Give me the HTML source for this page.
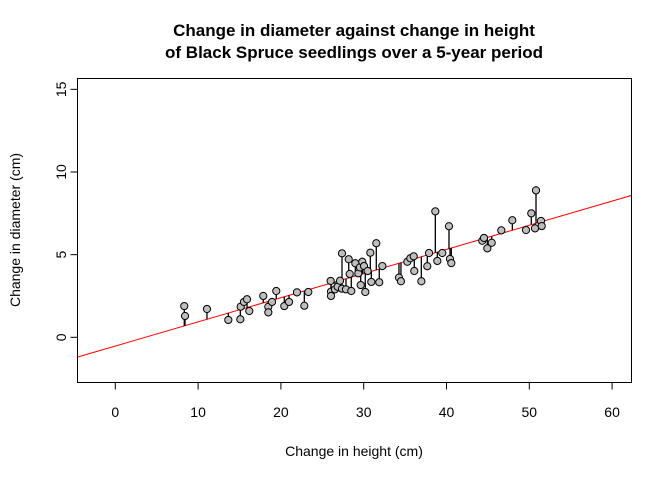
<!DOCTYPE html>
<html><head><meta charset="utf-8"><style>
body{margin:0;background:#fff}
svg text{font-family:"Liberation Sans",Arial,sans-serif;}
</style></head><body>
<svg id="chart" width="672" height="480" xmlns="http://www.w3.org/2000/svg">
<rect width="672" height="480" fill="#fff"/>
<text x="354" y="36" font-size="17" font-weight="bold" text-anchor="middle">Change in diameter against change in height</text>
<text x="354" y="58" font-size="17" font-weight="bold" text-anchor="middle">of Black Spruce seedlings over a 5-year period</text>
<text x="354" y="456" font-size="14" text-anchor="middle">Change in height (cm)</text>
<text x="20" y="230" font-size="14" text-anchor="middle" transform="rotate(-90 20 230)">Change in diameter (cm)</text>
<g id="axes"></g>
<g id="marks"></g>
<rect x="77.5" y="78.5" width="554" height="304" fill="none" stroke="#000" stroke-width="1"/>
</svg>
<script>
const heights=[8.33,8.42,11.07,13.65,15.10,15.14,15.54,15.91,16.18,17.87,18.48,18.48,18.93,19.44,20.41,20.98,21.94,22.83,23.31,26.01,26.05,26.05,26.53,26.86,27.14,27.38,27.38,27.86,28.19,28.31,28.50,28.99,29.35,29.55,29.64,29.83,30.04,30.19,30.48,30.80,30.92,31.52,31.88,32.25,34.26,34.50,35.27,35.63,36.04,36.11,36.96,37.68,37.89,38.65,38.89,39.49,40.30,40.42,40.58,44.32,44.53,44.93,45.46,46.62,47.95,49.60,50.24,50.81,50.69,51.41,51.50];
const diameters=[1.89,1.29,1.71,1.05,1.09,1.85,2.14,2.30,1.59,2.50,1.85,1.51,2.14,2.80,1.89,2.14,2.72,1.91,2.74,3.41,2.76,2.50,2.90,3.06,3.42,5.08,2.94,2.90,4.72,3.83,2.80,4.48,3.87,4.23,3.16,4.57,4.31,2.74,4.01,5.12,3.35,5.69,3.33,4.31,3.61,3.39,4.57,4.78,4.90,4.01,3.39,4.30,5.10,7.62,4.62,5.10,6.72,4.74,4.49,5.84,6.01,5.38,5.72,6.47,7.08,6.49,7.50,8.89,6.59,7.04,6.73];
const xTicks=[0,10,20,30,40,50,60];
const yTicks=[0,5,10,15];
const NS="http://www.w3.org/2000/svg";
const xs=v=>115.3+v*8.28;
const ys=v=>337.3-v*16.53;
function mk(tag,attrs,parent){const e=document.createElementNS(NS,tag);for(const k in attrs)e.setAttribute(k,attrs[k]);parent.appendChild(e);return e;}
const axes=document.getElementById('axes'),marks=document.getElementById('marks');
mk('line',{x1:xs(0),x2:xs(60),y1:382.5,y2:382.5,stroke:'#000'},axes);
xTicks.forEach(t=>{
 const l=mk('line',{x1:xs(t),x2:xs(t),y1:382.5,y2:389.5,stroke:'#000'},axes);
 
 
 const tx=mk('text',{x:xs(t),y:417,'font-size':14,'text-anchor':'middle'},axes);tx.textContent=t;
 
 
});
mk('line',{x1:77.5,x2:77.5,y1:ys(0),y2:ys(15),stroke:'#000'},axes);
yTicks.forEach(t=>{
 const l=mk('line',{x1:70.5,x2:77.5,y1:ys(t),y2:ys(t),stroke:'#000'},axes);
 
 
 const tx=mk('text',{x:66,y:ys(t),'font-size':14,'text-anchor':'middle',transform:`rotate(-90 66 ${ys(t)})`},axes);tx.textContent=t;
 
 
});
// linear fit
const n=heights.length;const mx=heights.reduce((a,b)=>a+b)/n,my=diameters.reduce((a,b)=>a+b)/n;
let sxy=0,sxx=0;for(let i=0;i<n;i++){sxy+=(heights[i]-mx)*(diameters[i]-my);sxx+=(heights[i]-mx)**2;}
const b=sxy/sxx,a=my-b*mx;
const cp=mk('clipPath',{id:'clip'},marks);mk('rect',{x:77.5,y:78.5,width:554,height:304},cp);
const fit=mk('line',{x1:xs(-10),y1:ys(a+b*-10),x2:xs(70),y2:ys(a+b*70),stroke:'#ff0000','stroke-width':1,'clip-path':'url(#clip)'},marks);


for(let i=0;i<n;i++){
 const r=mk('line',{x1:xs(heights[i]),x2:xs(heights[i]),y1:ys(diameters[i]),y2:ys(a+b*heights[i]),stroke:'#000','stroke-width':1.3},marks);
 
 
}
for(let i=0;i<n;i++){
 const c=mk('circle',{cx:xs(heights[i]),cy:ys(diameters[i]),r:3.6,fill:'#bebebe',stroke:'#000','stroke-width':1},marks);
 
 
}
</script>
</body></html>
